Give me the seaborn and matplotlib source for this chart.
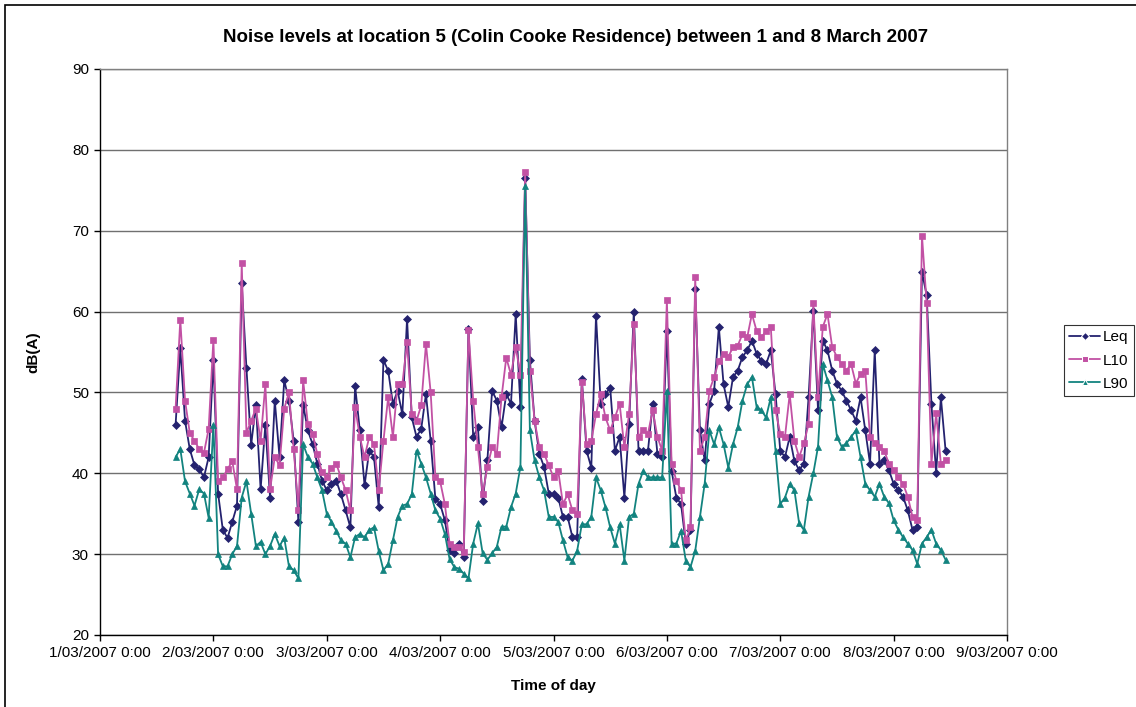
import pandas as pd
import seaborn as sns
import matplotlib.pyplot as plt
from matplotlib.patches import Rectangle

# hourly readings, first one at 1/03/2007 16:00
start = '2007-03-01 16:00'

leq = [46, 55.5, 46.5, 43, 41, 40.5, 39.5, 42, 54, 37.5,
       33, 32, 34, 36, 63.5, 53, 43.5, 48.5, 38, 46,
       37, 49, 42, 51.5, 49, 44, 34, 48.5, 45.3, 43.6,
       41.2, 39.1, 37.9, 38.7, 39.1, 37.4, 35.4, 33.3, 50.8, 45.3,
       38.5, 42.8, 42, 35.8, 54, 52.7, 48.6, 50.2, 47.3, 59.1,
       46.9, 44.5, 45.5, 49.8, 44, 36.8, 36.2, 34.2, 30.5, 30.1,
       31.3, 29.7, 57.9, 44.5, 45.7, 36.6, 41.6, 50.2, 49, 45.7,
       49.8, 48.6, 59.7, 48.2, 76.5, 54, 46.5, 42.4, 40.8, 37.5,
       37.4, 37, 34.6, 34.6, 32.1, 32.1, 51.7, 42.8, 40.7, 59.5,
       48.6, 49.8, 50.6, 42.8, 44.5, 37, 46.1, 60, 42.8, 42.8,
       42.8, 48.6, 42.4, 42, 57.6, 40.3, 37, 36.2, 31.3, 33,
       62.8, 45.3, 41.6, 48.6, 50.2, 58.1, 51, 48.2, 51.9, 52.7,
       54.4, 55.2, 56.4, 54.8, 53.9, 53.5, 55.2, 49.8, 42.8, 42,
       44.5, 41.5, 40.4, 41.2, 49.4, 60.1, 47.8, 56.4, 55.2, 52.7,
       51.1, 50.2, 49, 47.8, 46.5, 49.4, 45.3, 41.2, 55.2, 41.2,
       41.6, 40.4, 38.7, 37.9, 37.1, 35.4, 33, 33.4, 64.9, 62,
       48.6, 40, 49.4, 42.8]

l10 = [48, 59, 49, 45, 44, 43, 42.5, 45.5, 56.5, 39,
       39.5, 40.5, 41.5, 38, 66, 45, 46.5, 48, 44, 51,
       38, 42, 41, 48, 50, 43, 35.5, 51.5, 46.1, 44.9,
       42.4, 40.1, 39.5, 40.7, 41.2, 39.5, 37.9, 35.4, 48.2, 44.5,
       42, 44.5, 43.6, 37.9, 44, 49.4, 44.5, 51, 51, 56.2,
       47.3, 46.5, 48.4, 56, 50, 39.5, 39, 36.2, 31.3, 30.9,
       30.9, 30.3, 57.7, 49, 43.2, 37.4, 40.8, 43.2, 42.4, 49.4,
       54.3, 52.2, 55.6, 52.2, 77.2, 52.7, 46.5, 43.2, 42.4, 41,
       39.5, 40.3, 36.2, 37.4, 35.4, 35, 51.3, 43.6, 44, 47.3,
       49.8, 46.9, 45.3, 46.9, 48.6, 43.2, 47.3, 58.5, 44.5, 45.3,
       44.9, 47.8, 44.5, 42.8, 61.4, 41.2, 39.1, 37.9, 31.7, 33.3,
       64.3, 42.8, 44.5, 50.2, 51.9, 53.9, 54.8, 54.4, 55.6, 55.8,
       57.2, 56.8, 59.7, 57.6, 56.8, 57.6, 58.1, 47.8, 44.9, 44.5,
       49.8, 44, 42, 43.7, 46.1, 61, 49.4, 58.1, 59.7, 55.6,
       54.4, 53.5, 52.7, 53.5, 51.1, 52.3, 52.7, 44.5, 43.7, 43.3,
       42.8, 41.2, 40.4, 39.5, 38.7, 37.1, 34.6, 34.2, 69.4, 61,
       41.2, 47.4, 41.2, 41.6]

l90 = [42, 43, 39, 37.5, 36, 38, 37.5, 34.5, 46, 30,
       28.5, 28.5, 30, 31, 37, 39, 35, 31, 31.5, 30,
       31, 32.5, 31, 32, 28.5, 28, 27, 43.6, 42, 41.2,
       39.5, 37.9, 35, 34, 32.9, 31.7, 31.3, 29.6, 32.1, 32.5,
       32.1, 33, 33.3, 30.4, 28, 28.8, 31.7, 34.6, 36, 36.2,
       37.4, 42.8, 41.2, 39.5, 37.5, 35.4, 34.4, 32.5, 29.4, 28.4,
       28.2, 27.6, 27, 31.3, 33.8, 30.1, 29.3, 30.1, 30.9, 33.4,
       33.4, 35.8, 37.5, 40.8, 75.5, 45.3, 41.6, 39.5, 37.9, 34.6,
       34.6, 34, 31.7, 29.6, 29.2, 30.4, 33.7, 33.7, 34.6, 39.5,
       37.9, 35.8, 33.3, 31.3, 33.7, 29.2, 34.6, 35, 38.7, 40.3,
       39.5, 39.5, 39.5, 39.5, 50.2, 31.3, 31.3, 32.9, 29.2, 28.4,
       30.4, 34.6, 38.7, 45.3, 43.6, 45.7, 43.6, 40.7, 43.6, 45.7,
       49, 51, 51.9, 48.2, 47.8, 46.9, 49.4, 42.8, 36.2, 37,
       38.7, 37.9, 33.8, 33, 37.1, 40, 43.3, 53.5, 51.5, 49.4,
       44.5, 43.3, 43.7, 44.5, 45.3, 42, 38.7, 37.9, 37.1, 38.7,
       37.1, 36.3, 34.2, 33, 32.1, 31.3, 30.5, 28.8, 31.3, 32.1,
       33, 31.3, 30.5, 29.3]

series_names = ['Leq', 'L10', 'L90']
day_ticks = ['2007-03-01', '2007-03-02', '2007-03-03', '2007-03-04', '2007-03-05',
             '2007-03-06', '2007-03-07', '2007-03-08', '2007-03-09']
day_labels = ['1/03/2007 0:00', '2/03/2007 0:00', '3/03/2007 0:00', '4/03/2007 0:00',
              '5/03/2007 0:00', '6/03/2007 0:00', '7/03/2007 0:00', '8/03/2007 0:00',
              '9/03/2007 0:00']

frames = []
for name, vals in zip(series_names, [leq, l10, l90]):
    t = pd.date_range(start, periods=len(vals), freq='h')
    frames.append(pd.DataFrame({'time': t, 'dB': vals, 'series': name}))
df = pd.concat(frames, ignore_index=True)

sns.set_theme(style='white')
plt.rcParams['font.family'] = ['Liberation Sans', 'DejaVu Sans']
plt.rcParams['text.color'] = 'black'
plt.rcParams['axes.labelcolor'] = 'black'
plt.rcParams['xtick.color'] = 'black'
plt.rcParams['ytick.color'] = 'black'

fig = plt.figure(figsize=(11.36, 7.07), dpi=100)
ax = fig.add_axes([100 / 1136, 1 - 635 / 707, 907 / 1136, 566 / 707])

sns.lineplot(data=df, x='time', y='dB', hue='series', style='series',
             palette=['#24226f', '#c251a4', '#12837f'],
             markers=['D', 's', '^'], dashes=False,
             markersize=4, linewidth=1.3, ax=ax)
for line in ax.lines:
    line.set_markeredgecolor(line.get_color())
    line.set_markeredgewidth(0.5)

ax.set_xlim(pd.Timestamp(day_ticks[0]), pd.Timestamp(day_ticks[-1]))
ax.set_ylim(20, 90)
ax.set_yticks(range(20, 91, 10))
ax.set_xticks(pd.to_datetime(day_ticks))
ax.set_xticklabels(day_labels)
ax.yaxis.grid(True, color='#707070', lw=1)
ax.xaxis.grid(False)
ax.tick_params(axis='both', which='major', bottom=True, left=True, direction='out',
               length=4, width=1, labelsize=11, pad=4)
for side in ['left', 'bottom']:
    ax.spines[side].set_color('black')
    ax.spines[side].set_linewidth(1)
for side in ['top', 'right']:
    ax.spines[side].set_color('#808080')
    ax.spines[side].set_linewidth(1)

ax.set_xlabel('Time of day', fontsize=11, fontweight='bold')
ax.set_ylabel('dB(A)', fontsize=11, fontweight='bold')
ax.xaxis.set_label_coords(0.5, -0.077)
ax.yaxis.set_label_coords(-0.066, 0.5)

fig.text(576 / 1136, 1 - 37 / 707,
         'Noise levels at location 5 (Colin Cooke Residence) between 1 and 8 March 2007',
         ha='center', va='center', fontsize=13.5, fontweight='bold')

sns.move_legend(ax, 'upper left', bbox_to_anchor=(1064 / 1136, 1 - 325 / 707),
                bbox_transform=fig.transFigure, title=None, frameon=True,
                fancybox=False, edgecolor='black', fontsize=11, borderaxespad=0,
                handlelength=2.0, handletextpad=0.2, labelspacing=0.6, borderpad=0.35)
ax.get_legend().get_frame().set_linewidth(0.8)

# chart area border (right and bottom edges fall outside the picture)
fig.add_artist(Rectangle((5 / 1136, -0.05), 1.2, 1 - 4.5 / 707 + 0.05,
                         transform=fig.transFigure, fill=False, ec='black', lw=1.2))

fig.savefig('out.png', dpi=100)
